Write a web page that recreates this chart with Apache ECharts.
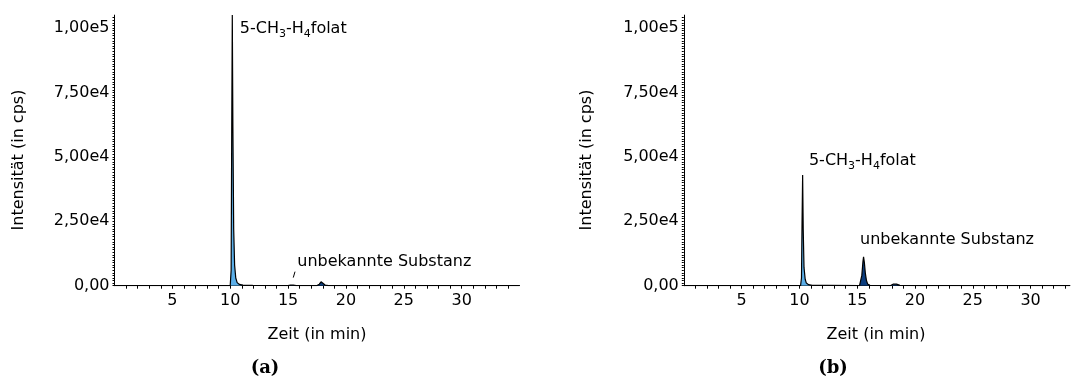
<!DOCTYPE html>
<html>
<head>
<meta charset="utf-8">
<script src="https://cdn.jsdelivr.net/npm/echarts@6/dist/echarts.min.js"></script>
<style>
  html, body { margin: 0; padding: 0; background: #fff; }
  #chart { width: 1077px; height: 380px; }
</style>
</head>
<body>
<div id="chart"></div>
<script>
// Chromatogram (a): retention time in min and intensity in cps
const timeA = [0, 10.0, 10.08, 10.13, 10.18, 10.23, 10.3, 10.38, 10.48, 10.6, 10.8, 11.1, 11.5, 11.95, 12.0, 12.05,
  15.0, 15.2, 15.3, 15.45, 15.7, 17.5, 17.7, 17.85, 18.0, 18.2, 18.5, 35];
const intensityA = [0, 0, 6000, 60000, 105000, 62000, 22000, 8000, 3000, 1200, 500, 250, 120, 100, 700, 100,
  50, 250, 450, 250, 50, 50, 600, 1500, 900, 250, 30, 0];

// Chromatogram (b)
const timeB = [0, 10.1, 10.18, 10.23, 10.28, 10.33, 10.4, 10.5, 10.6, 10.8, 11.1, 12.2, 12.3, 12.4,
  15.2, 15.3, 15.4, 15.5, 15.55, 15.62, 15.7, 15.8, 15.9, 16.1, 17.9, 18.1, 18.25, 18.4, 18.7, 20, 33.4];
const intensityB = [0, 0, 3000, 25000, 43000, 22000, 7000, 2500, 1000, 400, 150, 100, 300, 100,
  50, 800, 4000, 9500, 11200, 9000, 5000, 2000, 700, 150, 50, 600, 1200, 600, 150, 50, 0];

// Integrated peak windows (start, end in min)
const peakWindowsA = [[10.0, 11.1], [15.0, 15.7], [17.5, 18.5]];
const peakWindowsB = [[10.1, 11.1], [15.2, 16.1], [17.9, 18.7]];
const peakNames = ['5-CH3-H4folat', 'unbekannte Substanz', 'Nebenpeak'];

// Axis ticks
const xTickValues = [5, 10, 15, 20, 25, 30];
const xTickLabels = ['5', '10', '15', '20', '25', '30'];
const yTickValues = [0, 25000, 50000, 75000, 100000];
const yTickLabels = ['0,00', '2,50e4', '5,00e4', '7,50e4', '1,00e5'];
const xMaxA = 35, xMaxB = 33.4, yMax = 105000;

const FONT = 'DejaVu Sans';
const LIGHT = '#5aaee8';
const DARK = '#0b3d7e';
const peakColors = [LIGHT, DARK, DARK];

const chart = echarts.init(document.getElementById('chart'), null, { renderer: 'canvas' });

function pairs(t, v) { return t.map((x, i) => [x, v[i]]); }
function inWindow(data, w) { return data.filter(p => p[0] >= w[0] && p[0] <= w[1]); }
function apex(data) { return data.reduce((a, b) => (b[1] > a[1] ? b : a)); }

const richLabel = {
  n: { fontFamily: FONT, fontSize: 16, color: '#000', lineHeight: 22 },
  s: { fontFamily: FONT, fontSize: 11, color: '#000', lineHeight: 11, verticalAlign: 'bottom' }
};
const folatText = '{n|5-CH}{s|3}{n|-H}{s|4}{n|folat}';
const unknownText = '{n|unbekannte Substanz}';

function xAxisFor(gridIndex, max) {
  return {
    type: 'value', gridIndex, min: 0, max, interval: 1,
    axisLine: { show: true, onZero: false, lineStyle: { color: '#000', width: 1 } },
    axisTick: { show: true, length: 3, lineStyle: { color: '#000', width: 1 } },
    axisLabel: {
      interval: 0, margin: 7, color: '#000', fontFamily: FONT, fontSize: 16,
      showMaxLabel: false, showMinLabel: false,
      formatter: v => { const i = xTickValues.indexOf(Math.round(v * 1000) / 1000); return i >= 0 ? xTickLabels[i] : ''; }
    },
    splitLine: { show: false }
  };
}
function yAxisFor(gridIndex) {
  return {
    type: 'value', gridIndex, min: 0, max: yMax, interval: 1000,
    axisLine: { show: true, lineStyle: { color: '#000', width: 1 } },
    axisTick: { show: true, length: 2, lineStyle: { color: '#000', width: 1 } },
    axisLabel: {
      interval: 0, margin: 5, color: '#000', fontFamily: FONT, fontSize: 16, showMaxLabel: false,
      formatter: v => { const i = yTickValues.indexOf(v); return i >= 0 ? yTickLabels[i] : ''; }
    },
    splitLine: { show: false }
  };
}

function panelSeries(idx, data, windows, labelCfg) {
  const out = [];
  windows.forEach((w, k) => {
    out.push({
      type: 'line', name: peakNames[k], xAxisIndex: idx, yAxisIndex: idx,
      data: inWindow(data, w), showSymbol: false, symbol: 'none', silent: true,
      lineStyle: { width: 0 }, areaStyle: { color: peakColors[k], opacity: 1 }, z: 2
    });
  });
  const trace = {
    type: 'line', xAxisIndex: idx, yAxisIndex: idx, data, showSymbol: false, symbol: 'none',
    lineStyle: { color: '#000', width: 1.2 }, z: 3, silent: true,
    markPoint: {
      symbol: 'circle', symbolSize: 0, silent: true,
      data: labelCfg.map(c => {
        const a = apex(inWindow(data, windows[c.peak]));
        return {
          coord: a,
          label: { show: true, position: 'right', distance: 0, offset: c.offset, formatter: c.text, rich: richLabel }
        };
      })
    }
  };
  const leaders = labelCfg.filter(c => c.leader).map(c => {
    const a = apex(inWindow(data, windows[c.peak]));
    return [{ coord: [a[0] + c.leader[0], a[1] + c.leader[1]] }, { coord: [a[0] + c.leader[2], a[1] + c.leader[3]] }];
  });
  if (leaders.length) {
    trace.markLine = {
      symbol: 'none', silent: true, label: { show: false },
      lineStyle: { color: '#000', width: 1, type: 'solid' }, data: leaders
    };
  }
  out.push(trace);
  return out;
}

const dataA = pairs(timeA, intensityA);
const dataB = pairs(timeB, intensityB);

const series = [].concat(
  panelSeries(0, dataA, peakWindowsA, [
    { peak: 0, text: folatText, offset: [7.5, 14] },
    { peak: 1, text: unknownText, offset: [5.8, -23], leader: [0.15, 2700, 0.3, 5000] }
  ]),
  panelSeries(1, dataB, peakWindowsB, [
    { peak: 0, text: folatText, offset: [6.3, -14.3] },
    { peak: 1, text: unknownText, offset: [-3.5, -16.7] }
  ])
);

const textStyle = { fontFamily: FONT, fontSize: 16, fill: '#000' };
const capStyle = { fontFamily: 'DejaVu Serif', fontSize: 18, fontWeight: 'bold', fill: '#000' };
function txt(x, y, text, style, rotation) {
  return { type: 'text', x, y, rotation: rotation || 0, silent: true,
    style: Object.assign({ text, align: 'center', verticalAlign: 'middle' }, style) };
}

chart.setOption({
  animation: false,
  backgroundColor: '#fff',
  grid: [
    { left: 114.5, width: 405, top: 15.1, height: 270.6, containLabel: false },
    { left: 683.8, width: 386.1, top: 15.1, height: 270.6, containLabel: false }
  ],
  xAxis: [xAxisFor(0, xMaxA), xAxisFor(1, xMaxB)],
  yAxis: [yAxisFor(0), yAxisFor(1)],
  series,
  graphic: [
    txt(19, 160, 'Intensität (in cps)', textStyle, Math.PI / 2),
    txt(587, 160, 'Intensität (in cps)', textStyle, Math.PI / 2),
    txt(317, 335, 'Zeit (in min)', textStyle),
    txt(876, 335, 'Zeit (in min)', textStyle),
    txt(265, 368, '(a)', capStyle),
    txt(833, 368, '(b)', capStyle)
  ]
});
</script>
</body>
</html>
